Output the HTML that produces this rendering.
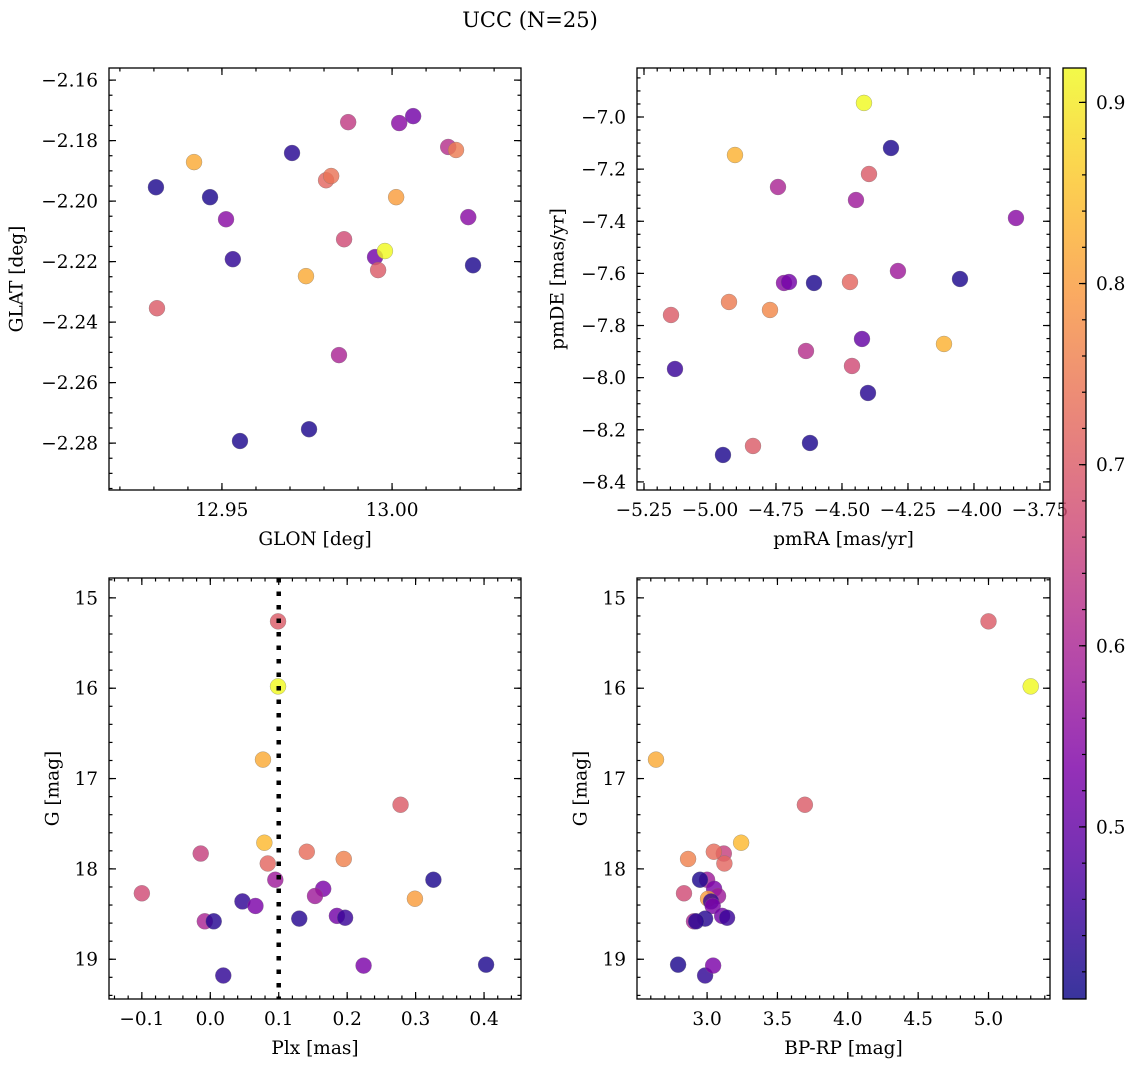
<!DOCTYPE html>
<html><head><meta charset="utf-8">
<style>
html,body{margin:0;padding:0;background:#fff;}
svg{display:block;font-family:"DejaVu Serif","Liberation Serif",serif;}
</style></head>
<body>
<svg id="fig" width="1136" height="1067" viewBox="0 0 1136 1067" xmlns="http://www.w3.org/2000/svg">
<rect width="1136" height="1067" fill="#fff"/>
<text x="530" y="27" font-size="21" text-anchor="middle">UCC (N=25)</text>
</svg>
<script>
// Panel 1: GLON vs GLAT
const glon = [12.9306,12.9418,12.9465,12.9512,12.9532,12.9309,12.9553,12.9706,12.9747,12.9756,12.9806,12.9821,12.9859,12.9871,12.9844,12.9950,12.9959,12.9979,13.0012,13.0021,13.0062,13.0165,13.0188,13.0224,13.0238];
const glat = [-2.1954,-2.1871,-2.1987,-2.2060,-2.2192,-2.2354,-2.2793,-2.1841,-2.2248,-2.2754,-2.1931,-2.1917,-2.2126,-2.1739,-2.2509,-2.2185,-2.2228,-2.2165,-2.1987,-2.1742,-2.1719,-2.1821,-2.1831,-2.2053,-2.2212];
const prob1 = [0.42,0.82,0.42,0.55,0.44,0.70,0.42,0.43,0.82,0.42,0.72,0.74,0.67,0.64,0.60,0.52,0.70,0.92,0.80,0.55,0.52,0.62,0.75,0.55,0.42];
// Panel 2: pmRA vs pmDE
const pmra = [-4.4167,-4.9053,-4.3144,-4.7424,-4.3977,-4.447,-3.8409,-4.288,-4.053,-4.7197,-4.7008,-4.606,-4.4697,-4.928,-4.7727,-5.1477,-4.1136,-4.4242,-4.6364,-4.4621,-5.1326,-4.4015,-4.8371,-4.6212,-4.9508];
const pmde = [-6.946,-7.1458,-7.1189,-7.2685,-7.2186,-7.3184,-7.3874,-7.5907,-7.6214,-7.6367,-7.633,-7.6367,-7.633,-7.7096,-7.7403,-7.7595,-7.8707,-7.8515,-7.8976,-7.9551,-7.9666,-8.0587,-8.262,-8.2505,-8.2965];
const prob2 = [0.92,0.83,0.42,0.60,0.70,0.58,0.55,0.58,0.42,0.55,0.52,0.42,0.72,0.75,0.77,0.70,0.83,0.50,0.62,0.67,0.45,0.43,0.70,0.42,0.42];
// Panels 3 & 4: Plx, G, BP-RP
const plx  = [0.099,0.099,0.077,0.278,0.079,-0.014,0.141,0.084,0.195,-0.100,0.095,0.326,0.165,0.153,0.299,0.047,0.066,0.130,-0.008,0.005,0.185,0.197,0.019,0.224,0.403];
const gmag = [15.26,15.98,16.79,17.29,17.71,17.83,17.81,17.94,17.89,18.27,18.12,18.12,18.22,18.30,18.33,18.36,18.41,18.55,18.58,18.58,18.52,18.54,19.18,19.07,19.06];
const bprp = [5.00,5.30,2.637,3.695,3.242,3.119,3.048,3.123,2.865,2.836,3.0,2.95,3.05,3.078,3.007,3.028,3.04,2.986,2.907,2.922,3.107,3.142,2.986,3.043,2.794];
const prob3 = [0.70,0.92,0.82,0.70,0.84,0.65,0.73,0.72,0.76,0.67,0.58,0.42,0.53,0.58,0.80,0.44,0.53,0.43,0.60,0.43,0.52,0.45,0.44,0.53,0.42];
const plxLine = [0.1];
const cbTicks = [0.5,0.6,0.7,0.8,0.9];

const NS="http://www.w3.org/2000/svg";
const svg=document.getElementById('fig');
const VMIN=0.405, VMAX=0.919;
const FS=18.5;
const stops=["#0d0887","#4c02a1","#7e03a8","#a92395","#cc4778","#e56b5d","#f89540","#fdc328","#f0f921"];
function hex(h){return [parseInt(h.substr(1,2),16),parseInt(h.substr(3,2),16),parseInt(h.substr(5,2),16)];}
function plasma(t){t=Math.max(0,Math.min(1,t));const f=t*8,i=Math.min(7,Math.floor(f)),u=f-i;
 const a=hex(stops[i]),b=hex(stops[i+1]);return `rgb(${a.map((v,k)=>Math.round(v+(b[k]-v)*u)).join(',')})`;}
function cmap(v){return plasma((v-VMIN)/(VMAX-VMIN));}
function mk(tag,attrs,parent){const e=document.createElementNS(NS,tag);for(const k in attrs)e.setAttribute(k,attrs[k]);(parent||svg).appendChild(e);return e;}
function fmt(v,d){const s=Math.abs(v).toFixed(d);return (v<-1e-9?'\u2212':'')+s;}

function panel(cfg){
 const {x0,x1,y0,y1,xmin,xmax,ymin,ymax,invertY}=cfg;
 const g=mk('g',{});
 
 
 const sx=v=>x0+(v-xmin)/(xmax-xmin)*(x1-x0);
 const sy=v=>invertY? y0+(v-ymin)/(ymax-ymin)*(y1-y0) : y1-(v-ymin)/(ymax-ymin)*(y1-y0);
 const tg=mk('g',{stroke:'#000','stroke-width':1.2},g);
 function ticksX(step,len,labels,dec){
  const s=Math.ceil((Math.min(xmin,xmax)-1e-9)/step);
  for(let k=s;k*step<=Math.max(xmin,xmax)+1e-9;k++){const v=k*step,x=sx(v);
   mk('line',{x1:x,x2:x,y1:y1,y2:y1-len},tg);mk('line',{x1:x,x2:x,y1:y0,y2:y0+len},tg);
   if(labels){const t=mk('text',{x:x,y:y1+26,'font-size':FS,'text-anchor':'middle',stroke:'none'},g);t.textContent=fmt(v,dec);
    
    }}
 }
 function ticksY(step,len,labels,dec){
  const lo=Math.min(ymin,ymax),hi=Math.max(ymin,ymax);
  const s=Math.ceil((lo-1e-9)/step);
  for(let k=s;k*step<=hi+1e-9;k++){const v=k*step,y=sy(v);
   mk('line',{x1:x0,x2:x0+len,y1:y,y2:y},tg);mk('line',{x1:x1,x2:x1-len,y1:y,y2:y},tg);
   if(labels){const t=mk('text',{x:x0-11,y:y+6.5,'font-size':FS,'text-anchor':'end',stroke:'none'},g);t.textContent=fmt(v,dec);
    
    }}
 }
 ticksX(cfg.xmin_step,3.5,false);ticksX(cfg.xstep,7,true,cfg.xdec);
 ticksY(cfg.ymin_step,3.5,false);ticksY(cfg.ystep,7,true,cfg.ydec);
 cfg.xs.forEach((xv,i)=>{const c=mk('circle',{cx:sx(xv),cy:sy(cfg.ys[i]),r:8,fill:cmap(cfg.cs[i]),'fill-opacity':0.82,stroke:'#777','stroke-width':0.5,'stroke-opacity':0.6},g);
  
  });
 if(cfg.vline){cfg.vline.forEach(v=>{const l=mk('line',{x1:sx(v),x2:sx(v),y1:y0,y2:y1,stroke:'#000','stroke-width':4.5,'stroke-dasharray':'4.5,9'},g);
  
  });}
 mk('rect',{x:x0,y:y0,width:x1-x0,height:y1-y0,fill:'none',stroke:'#000','stroke-width':1.3},g);
 const xl=mk('text',{x:(x0+x1)/2,y:y1+55,'font-size':FS,'text-anchor':'middle'},g);xl.textContent=cfg.xlabel;
 
 
 const cx=x0-cfg.ylabOff,cy=(y0+y1)/2;
 const yl=mk('text',{x:cx,y:cy,'font-size':FS,'text-anchor':'middle','dominant-baseline':'central',transform:`rotate(-90 ${cx} ${cy})`},g);yl.textContent=cfg.ylabel;
 
 
}

panel({name:'glon-glat-panel',x0:109,x1:521,y0:68,y1:490,xmin:12.9168,xmax:13.0379,ymin:-2.2955,ymax:-2.156,xstep:0.05,xmin_step:0.01,xdec:2,ystep:0.02,ymin_step:0.005,ydec:2,xs:glon,ys:glat,cs:prob1,xlabel:'GLON [deg]',ylabel:'GLAT [deg]',ylabOff:92});
panel({name:'proper-motion-panel',x0:637,x1:1050,y0:68,y1:490,xmin:-5.2765,xmax:-3.712,ymin:-8.431,ymax:-6.812,xstep:0.25,xmin_step:0.05,xdec:2,ystep:0.2,ymin_step:0.05,ydec:1,xs:pmra,ys:pmde,cs:prob2,xlabel:'pmRA [mas/yr]',ylabel:'pmDE [mas/yr]',ylabOff:79});
panel({name:'plx-g-panel',x0:109,x1:521,y0:578,y1:999,xmin:-0.148,xmax:0.454,ymin:14.78,ymax:19.44,invertY:true,xstep:0.1,xmin_step:0.02,xdec:1,ystep:1,ymin_step:0.2,ydec:0,xs:plx,ys:gmag,cs:prob3,vline:plxLine,xlabel:'Plx [mas]',ylabel:'G [mag]',ylabOff:56});
panel({name:'cmd-panel',x0:637,x1:1050,y0:578,y1:999,xmin:2.502,xmax:5.437,ymin:14.78,ymax:19.44,invertY:true,xstep:0.5,xmin_step:0.1,xdec:1,ystep:1,ymin_step:0.2,ydec:0,xs:bprp,ys:gmag,cs:prob3,xlabel:'BP-RP [mag]',ylabel:'G [mag]',ylabOff:56});

(function(){
 const x0=1063,x1=1086,y0=68,y1=999;
 const g=mk('g',{});
 
 
 const defs=mk('defs',{},g);
 const lg=mk('linearGradient',{id:'cbg',x1:0,y1:1,x2:0,y2:0},defs);
 for(let i=0;i<=20;i++){mk('stop',{offset:i/20,'stop-color':plasma(i/20)},lg);}
 mk('rect',{x:x0,y:y0,width:x1-x0,height:y1-y0,fill:'url(#cbg)','fill-opacity':0.82},g);
 const sy=v=>y1-(v-VMIN)/(VMAX-VMIN)*(y1-y0);
 for(let k=Math.ceil(VMIN/0.02);k*0.02<=VMAX;k++){const y=sy(k*0.02);mk('line',{x1:x1,x2:x1-4,y1:y,y2:y,stroke:'#000','stroke-width':1.2},g);}
 cbTicks.forEach(v=>{const y=sy(v);mk('line',{x1:x1,x2:x1-7,y1:y,y2:y,stroke:'#000','stroke-width':1.2},g);
  const t=mk('text',{x:x1+10,y:y+6.5,'font-size':FS},g);t.textContent=v.toFixed(1);
  
  });
 mk('rect',{x:x0,y:y0,width:x1-x0,height:y1-y0,fill:'none',stroke:'#000','stroke-width':1.3},g);
})();
</script>
</body></html>
